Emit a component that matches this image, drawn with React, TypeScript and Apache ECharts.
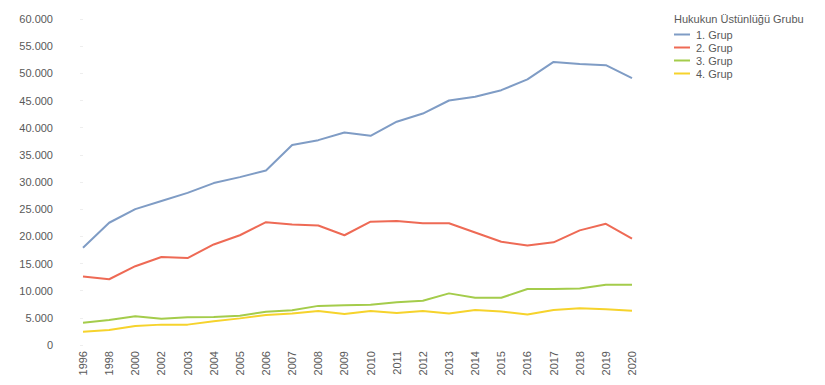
import React, { useEffect, useRef } from "react";
import * as echarts from "echarts";

const years = ["1996", "1998", "2000", "2002", "2003", "2004", "2005", "2006", "2007", "2008", "2009", "2010", "2011", "2012", "2013", "2014", "2015", "2016", "2017", "2018", "2019", "2020"];
const group1 = [17900, 22500, 25000, 26500, 28000, 29800, 30900, 32100, 36800, 37700, 39100, 38500, 41100, 42600, 45000, 45700, 46900, 48900, 52100, 51700, 51500, 49100];
const group2 = [12600, 12100, 14500, 16200, 16000, 18500, 20200, 22600, 22200, 22000, 20200, 22700, 22800, 22400, 22400, 20700, 19000, 18300, 18900, 21100, 22300, 19600];
const group3 = [4100, 4600, 5300, 4850, 5100, 5150, 5400, 6100, 6400, 7200, 7300, 7400, 7850, 8150, 9500, 8700, 8700, 10300, 10300, 10400, 11100, 11100];
const group4 = [2450, 2750, 3500, 3750, 3750, 4350, 4900, 5500, 5800, 6250, 5700, 6250, 5900, 6250, 5800, 6450, 6150, 5600, 6450, 6750, 6600, 6300];
const seriesNames = ["1. Grup", "2. Grup", "3. Grup", "4. Grup"];
const colors = ["#7f9cc5", "#ee6a55", "#a4cc4b", "#f6d32c"];
const legendTitle = "Hukukun Üstünlüğü Grubu";

export default function App() {
  const ref = useRef<HTMLDivElement>(null);
  useEffect(() => {
    if (!ref.current) return;
    const chart = echarts.init(ref.current, null, { renderer: "svg" });
    const data = [group1, group2, group3, group4];
    chart.setOption({
      animation: false,
      textStyle: { fontFamily: "'Liberation Sans', Arial, sans-serif" },
      grid: { left: 83, right: 825 - 632, top: 19, bottom: 385 - 345, containLabel: false },
      title: {
        text: legendTitle,
        left: 669,
        top: 8,
        textStyle: { fontSize: 11, fontWeight: "normal", color: "#595959" },
      },
      legend: {
        orient: "vertical",
        left: 669,
        top: 24,
        itemWidth: 16,
        itemHeight: 2,
        itemGap: 2,
        icon: "rect",
        data: seriesNames,
        textStyle: { fontSize: 11, color: "#595959", padding: [0, 0, 0, 1] },
      },
      xAxis: {
        type: "category",
        data: years,
        boundaryGap: false,
        axisLine: { show: false },
        axisTick: { show: false },
        axisLabel: { rotate: 90, fontSize: 11, color: "#595959", margin: 6, interval: 0 },
      },
      yAxis: {
        type: "value",
        min: 0,
        max: 60000,
        interval: 5000,
        axisLine: { show: false },
        axisTick: { show: true, length: 3, lineStyle: { color: "#eee" } },
        splitLine: { show: false },
        axisLabel: {
          fontSize: 11,
          color: "#595959",
          margin: 30,
          formatter: (v: number) => v.toLocaleString("de-DE"),
        },
      },
      series: data.map((d, i) => ({
        name: seriesNames[i],
        type: "line",
        data: d,
        symbol: "none",
        color: colors[i],
        lineStyle: { width: 2, color: colors[i] },
      })),
    });
    return () => chart.dispose();
  }, []);
  return <div ref={ref} style={{ width: 825, height: 385, position: "absolute", left: 0, top: 0 }} />;
}
